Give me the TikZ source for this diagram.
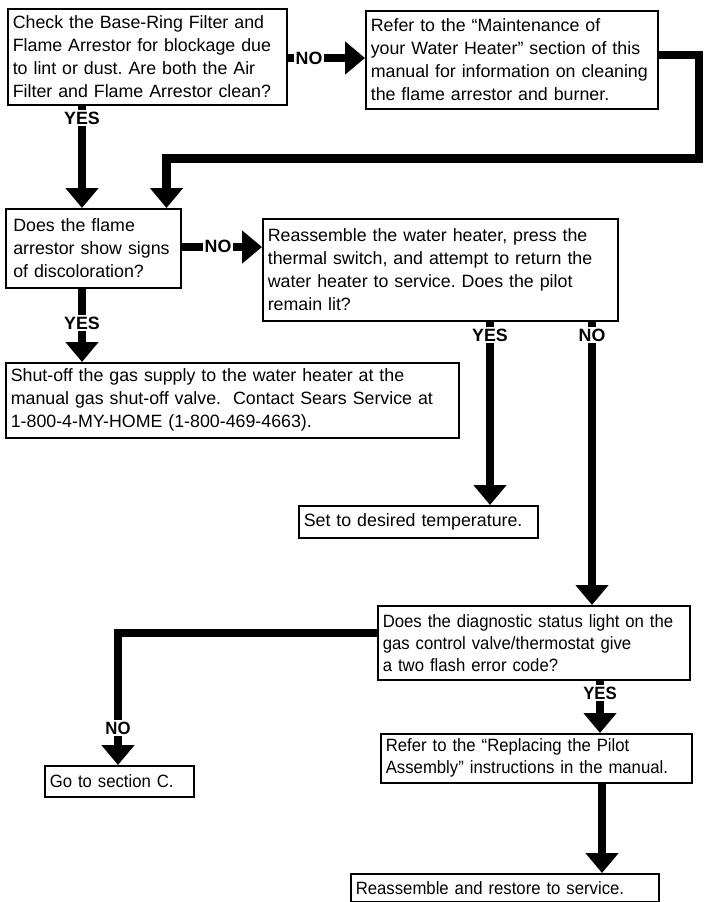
\documentclass[tikz,border=0pt]{standalone}
\usepackage{fontspec}
\setmainfont{Liberation Sans}
\newfontfamily\narrowfont[FakeStretch=0.94]{Liberation Sans}
\usetikzlibrary{arrows.meta}
\frenchspacing

\begin{document}
\begin{tikzpicture}[
  x=1pt, y=-1pt,
  box/.style={draw, line width=1.6pt, anchor=north west, align=left,
    inner xsep=5pt, inner ysep=2pt, font=\fontsize{17.8}{23}\selectfont},
  narrowbox/.style={box, font=\narrowfont\fontsize{17.8}{22}\selectfont},
  flow/.style={line width=8.5pt, -{Triangle[width=32pt,length=20pt]}},
  lab/.style={fill=white, inner sep=1.5pt, font=\bfseries\fontsize{17.8}{18}\selectfont},
  narrowlab/.style={lab, font=\narrowfont\bfseries\fontsize{17.8}{18}\selectfont},
]
\useasboundingbox (0,0) rectangle (704,902);

% ---------- columns and rows of the connectors ----------
\coordinate (c1) at (82,0);
\coordinate (c2) at (166.5,0);
\coordinate (c3) at (490,0);
\coordinate (c4) at (592,0);
\coordinate (c5) at (118,0);
\coordinate (c6) at (600,0);
\coordinate (c7) at (602,0);
\coordinate (c9) at (699,0);
\coordinate (r0) at (0,55);
\coordinate (r1) at (0,58);
\coordinate (r2) at (0,158.5);
\coordinate (r3) at (0,247);
\coordinate (r4) at (0,633);

% ---------- boxes ----------
\node[box, text width=269pt, minimum height=96pt] (chk) at (7,8)
  {Check the Base-Ring Filter and\\ Flame Arrestor for blockage due\\
   to lint or dust. Are both the Air\\ Filter and Flame Arrestor clean?};
\node[box, text width=282pt, minimum height=98pt] (maint) at (365,10)
  {Refer to the “Maintenance of\\ your Water Heater” section of this\\
   manual for information on cleaning\\ the flame arrestor and burner.};
\node[box, text width=160pt, minimum width=175pt, minimum height=79pt] (flame) at (5,208)
  {Does the flame\\ arrestor show signs\\ of discoloration?};
\node[box, text width=345pt, minimum height=102pt] (reass) at (262,218)
  {Reassemble the water heater, press the\\ thermal switch, and attempt to return the\\
   water heater to service. Does the pilot\\ remain lit?};
\node[box, text width=443pt, minimum height=75pt] (shut) at (5,362)
  {Shut-off the gas supply to the water heater at the\\
   manual gas shut-off valve.~~Contact Sears Service at\\
   1-800-4-MY-HOME (1-800-469-4663).};
\node[box, text width=229pt, minimum height=32pt] (settemp) at (298,505)
  {Set to desired temperature.};
\node[narrowbox, text width=302pt, minimum height=74pt] (diag) at (377,605)
  {Does the diagnostic status light on the\\ gas control valve/thermostat give\\
   a two flash error code?};
\node[narrowbox, text width=139pt, minimum height=31pt] (goc) at (44,765)
  {Go to section C.};
\node[narrowbox, text width=301pt, minimum height=49pt] (repl) at (380,733)
  {Refer to the “Replacing the Pilot\\ Assembly” instructions in the manual.};
\node[narrowbox, text width=298pt, minimum height=28pt] (rest) at (350,873)
  {Reassemble and restore to service.};

% ---------- connectors ----------
\draw[flow] (chk.east |- r1) -- (maint.west |- r1);
\draw[flow] (maint.east |- r0) -- (c9 |- r0) -- (c9 |- r2) -- (c2 |- r2) -- (flame.north -| c2);
\draw[flow] (chk.south -| c1) -- (flame.north -| c1);
\draw[flow] (flame.east |- r3) -- (reass.west |- r3);
\draw[flow] (flame.south -| c1) -- (shut.north -| c1);
\draw[flow] (reass.south -| c3) -- (settemp.north -| c3);
\draw[flow] (reass.south -| c4) -- (diag.north -| c4);
\draw[flow] (diag.west |- r4) -- (c5 |- r4) -- (goc.north -| c5);
\draw[flow] (diag.south -| c6) -- (repl.north -| c6);
\draw[flow] (repl.south -| c7) -- (rest.north -| c7);

% ---------- labels on the connectors ----------
\node[lab] (no1) at (309,58) {NO};
\node[lab] (yes1) at (82,118) {YES};
\node[lab] (no2) at (218,246) {NO};
\node[lab] (yes2) at (82,323) {YES};
\node[lab] (yes3) at (490,335) {YES};
\node[lab] (no3) at (592,335) {NO};
\node[narrowlab] (no4) at (118,728) {NO};
\node[narrowlab] (yes4) at (600,693) {YES};

\end{tikzpicture}
\end{document}
